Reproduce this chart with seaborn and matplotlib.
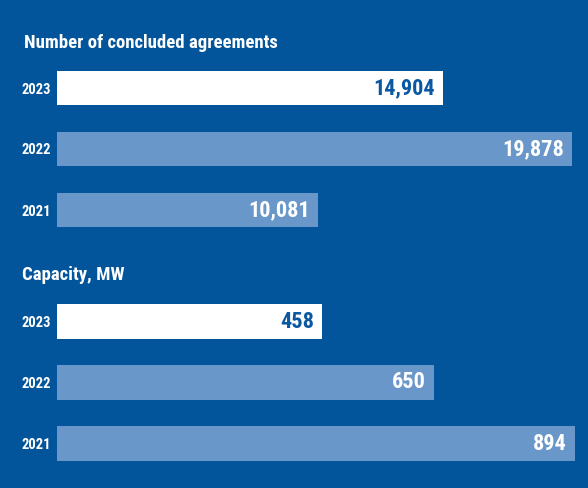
import matplotlib
matplotlib.use("Agg")
import matplotlib.pyplot as plt
from matplotlib import font_manager
import seaborn as sns
import pandas as pd

# data
years = ["2023", "2022", "2021"]
agreements = [14904, 19878, 10081]
capacity = [458, 650, 894]
titles = ["Number of concluded agreements", "Capacity, MW"]

BG = "#02559a"
LIGHT = "#6a97c9"
DARK_TXT = "#0b58a2"
palette = {"2023": "white", "2022": LIGHT, "2021": LIGHT}
txt_colors = {"2023": DARK_TXT, "2022": "white", "2021": "white"}

sns.set_theme(style="white")

# condensed face, closest to the DIN-like font of the original
fonts = font_manager.fontManager.ttflist
FAMILY = "DejaVu Sans"
for name in ["Roboto Condensed", "Liberation Sans Narrow"]:
    if any(f.name == name for f in fonts):
        FAMILY = name
        break
plt.rcParams["font.family"] = [FAMILY, "DejaVu Sans"]

fig = plt.figure(figsize=(5.88, 4.88), dpi=100)
fig.patch.set_facecolor(BG)

W, H = 588, 488
left = 57 / W
# axes rects (pixel based), bars are 61px apart
ax_top = fig.add_axes([left, 1 - 240.5 / H, 1 - left, 183 / H])
ax_bot = fig.add_axes([left, 1 - 474 / H, 1 - left, 183 / H])

# pixel where the longest bar ends
ends = {0: 572, 1: 575}

for i, (ax, vals) in enumerate(zip([ax_top, ax_bot], [agreements, capacity])):
    df = pd.DataFrame({"year": years, "value": vals})
    sns.barplot(data=df, x="value", y="year", hue="year", palette=palette,
                order=years, legend=False, width=0.57, linewidth=0,
                saturation=1, ax=ax)
    ax.set_facecolor(BG)
    span = (W - 57) / (ends[i] - 57)
    ax.set_xlim(0, max(vals) * span)
    ax.set_ylim(2.5, -0.5)
    for s in ax.spines.values():
        s.set_visible(False)
    ax.set_xticks([])
    ax.set_xlabel("")
    ax.set_ylabel("")
    ax.tick_params(axis="y", length=0, pad=4.5, labelsize=10.5, labelcolor="white")
    for lab in ax.get_yticklabels():
        lab.set_fontweight("bold")
    for p, yr, v in zip(ax.patches, years, vals):
        ax.annotate(f"{v:,}", (p.get_width(), p.get_y() + p.get_height() / 2),
                    xytext=(-6, 0), textcoords="offset points",
                    ha="right", va="center", fontsize=16, fontweight="bold",
                    color=txt_colors[yr])

fig.text(24 / W, 1 - 48.5 / H, titles[0], color="white", fontsize=13.5,
         fontweight="bold", va="baseline", ha="left")
fig.text(22 / W, 1 - 279.5 / H, titles[1], color="white", fontsize=13.5,
         fontweight="bold", va="baseline", ha="left")

fig.savefig("out.png", dpi=100, facecolor=BG)
